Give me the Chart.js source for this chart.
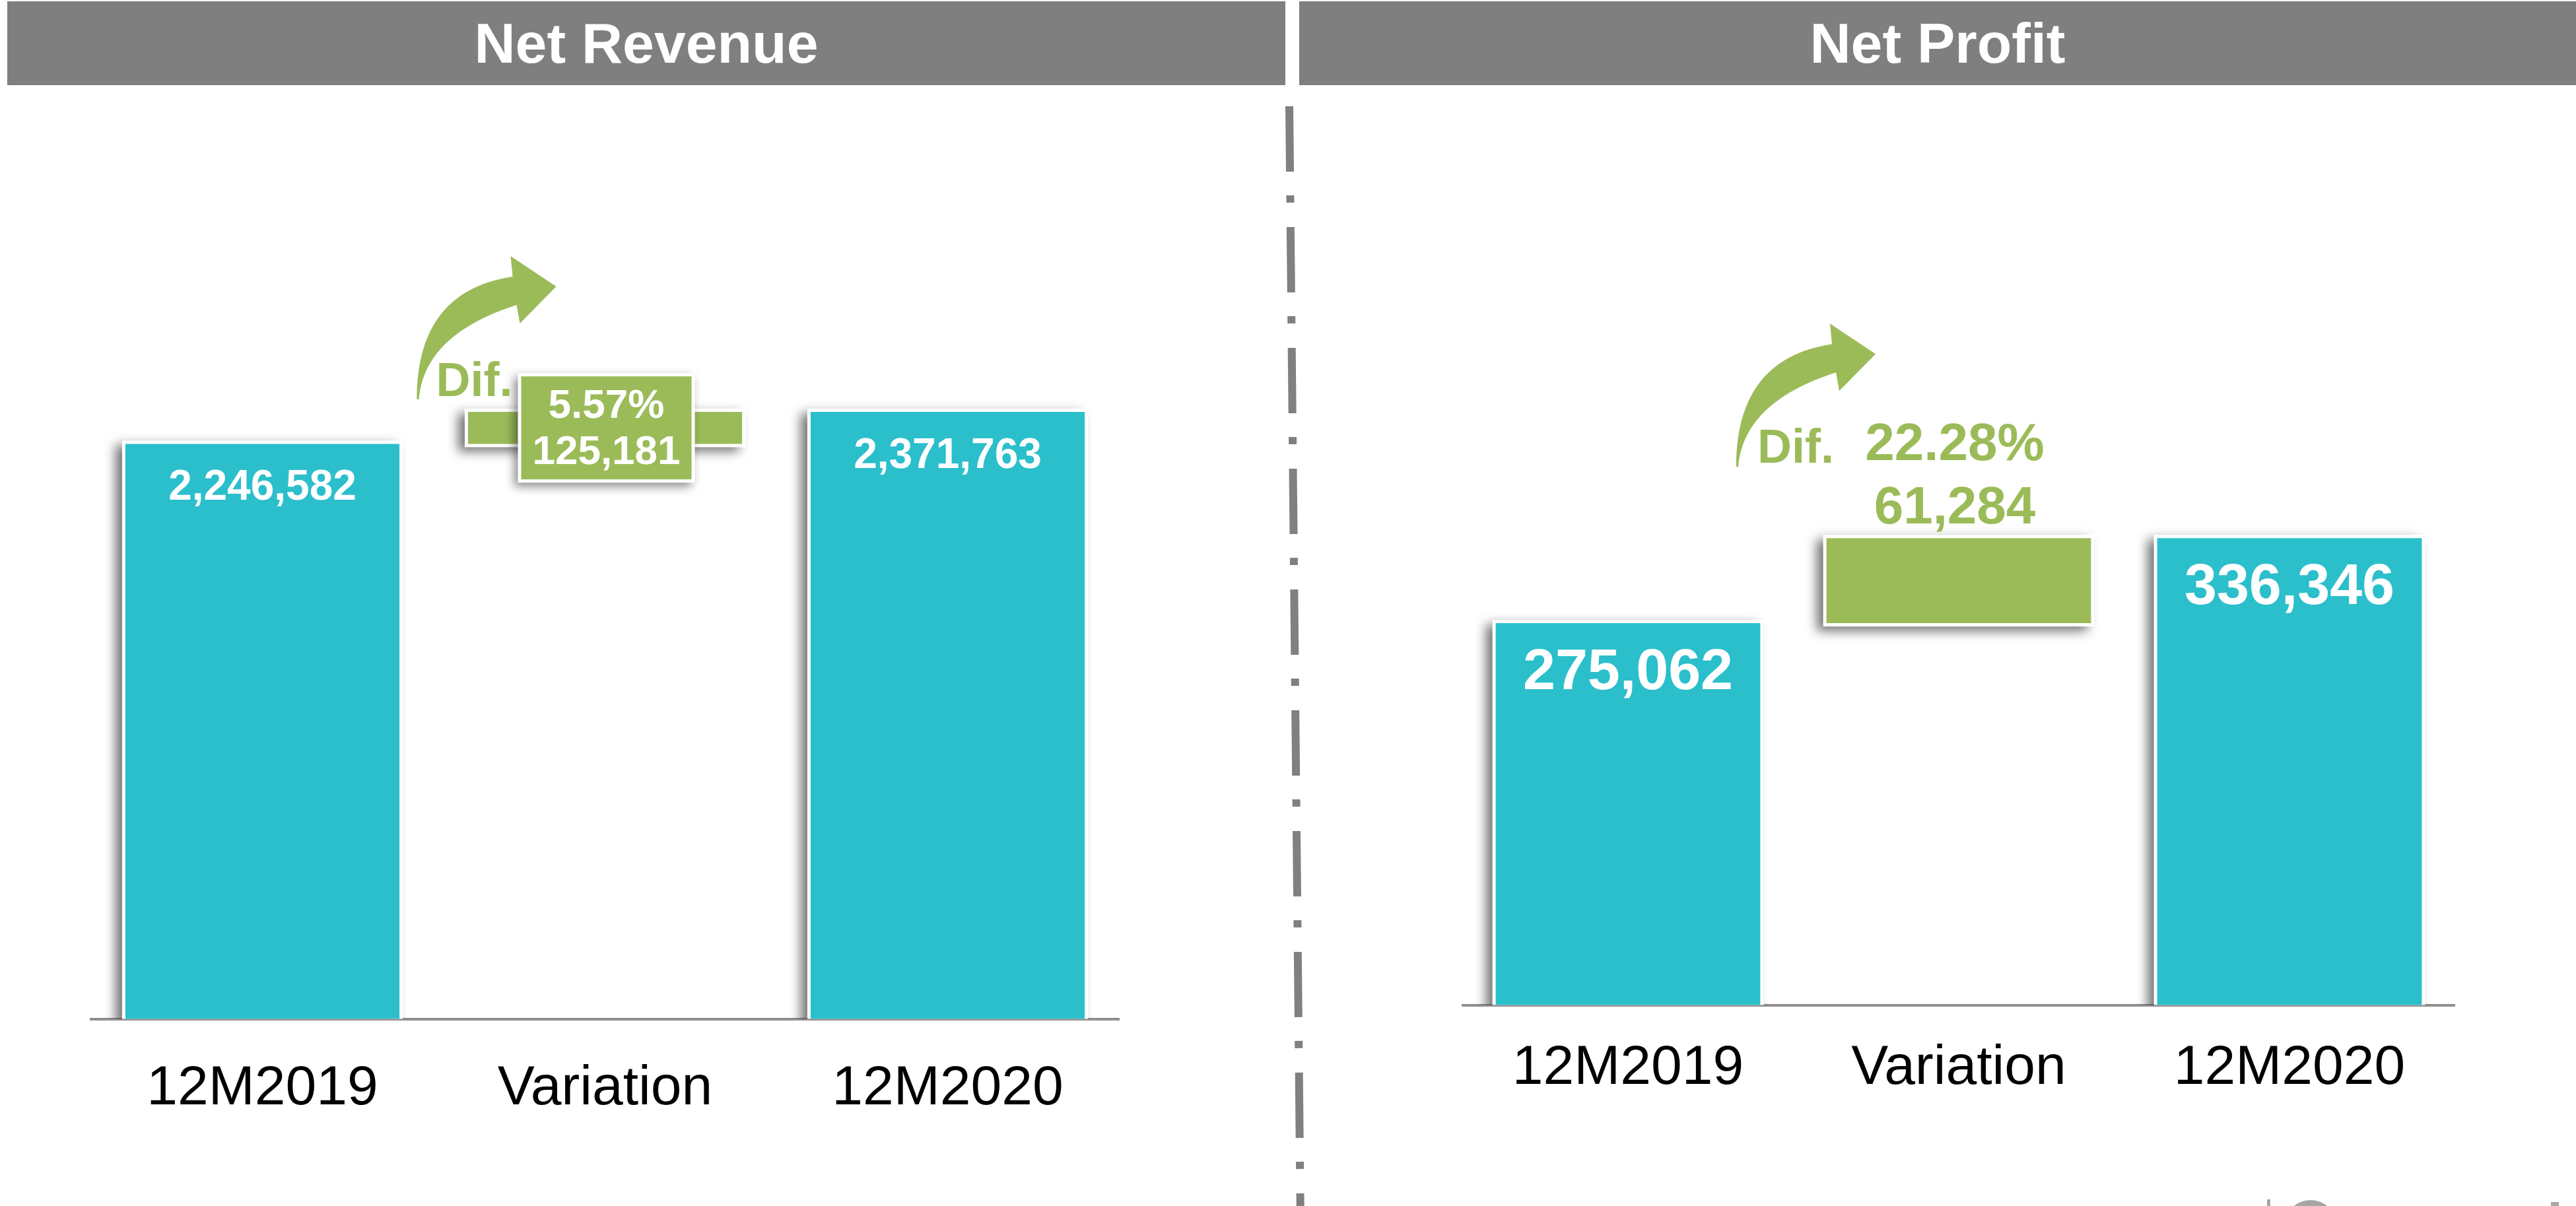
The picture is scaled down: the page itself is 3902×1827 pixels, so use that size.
<!DOCTYPE html>
<html>
<head>
<meta charset="utf-8">
<script src="https://cdn.jsdelivr.net/npm/chart.js@4.4.1/dist/chart.umd.min.js"></script>
<style>
  html, body { margin: 0; padding: 0; background: #fff; }
  body { width: 3902px; height: 1827px; position: relative; overflow: hidden; font-family: "Liberation Sans", Arial, sans-serif; }
  .header { position: absolute; top: 2px; height: 127px; line-height: 127px; background: #7f7f7f; color: #fff; font-weight: bold; font-size: 86px; text-align: center; }
  canvas { position: absolute; top: 0; }
  .logo { position: absolute; background: #a6a6a6; }
</style>
</head>
<body>
<div class="header" style="left:11px;width:1936px;">Net Revenue</div>
<div class="header" style="left:1968px;width:1934px;">Net Profit</div>

<svg style="position:absolute;left:0;top:0" width="3902" height="1827">
  <line x1="1953" y1="161" x2="1970" y2="1860" stroke="#808080" stroke-width="12" stroke-dasharray="99 36 11 37"/>
</svg>

<div class="logo" style="left:3434px;top:1817px;width:5px;height:10px;"></div>
<div class="logo" style="left:3460px;top:1818px;width:80px;height:80px;border-radius:50%;"></div>
<div class="logo" style="left:3864px;top:1821px;width:12px;height:6px;"></div>

<canvas id="revenueChart" width="1950" height="1827" style="left:0"></canvas>
<canvas id="profitChart" width="1942" height="1827" style="left:1960px"></canvas>

<script>
const categories = ['12M2019', 'Variation', '12M2020'];
const revenueValues = [2246582, 2371763];   // 12M2019, 12M2020
const profitValues = [275062, 336346];

const teal = '#2bbfcc';
const green = '#9bbb59';
const fontFamily = '"Liberation Sans", Arial, sans-serif';

const fmt = n => n.toLocaleString('en-US');

// start, variation step, end
function waterfall(v) {
    return [[0, v[0]], [v[0], v[1]], [0, v[1]]];
}

function barBox(bar) {
    const p = bar.getProps(['x', 'y', 'base', 'width'], true);
    return {
        x: p.x,
        w: p.width,
        top: Math.min(p.y, p.base),
        bottom: Math.max(p.y, p.base)
    };
}

// white frame + soft drop shadow behind every bar
const shadowPlugin = {
    id: 'barShadow',
    beforeDatasetsDraw(chart) {
        const ctx = chart.ctx;
        const area = chart.chartArea;
        ctx.save();
        ctx.beginPath();
        ctx.rect(0, 0, chart.width, area.bottom);
        ctx.clip();
        chart.getDatasetMeta(0).data.forEach(bar => {
            const b = barBox(bar);
            ctx.shadowColor = 'rgba(0,0,0,0.55)';
            ctx.shadowBlur = 16;
            ctx.shadowOffsetX = -10;
            ctx.shadowOffsetY = 7;
            ctx.fillStyle = '#fff';
            ctx.fillRect(b.x - b.w / 2 - 5, b.top - 5, b.w + 10, b.bottom - b.top + 10);
        });
        ctx.restore();
    }
};

function drawArrow(ctx, x, y) {
    ctx.beginPath();
    ctx.moveTo(x, y);
    ctx.bezierCurveTo(x, y - 100, x + 40, y - 170, x + 145, y - 186);
    ctx.lineTo(x + 142, y - 217);
    ctx.lineTo(x + 211, y - 171);
    ctx.lineTo(x + 156, y - 115);
    ctx.lineTo(x + 151, y - 143);
    ctx.bezierCurveTo(x + 80, y - 120, x + 10, y - 80, x + 3, y);
    ctx.closePath();
    ctx.fill();
}

const annotatePlugin = {
    id: 'annotate',
    afterDatasetsDraw(chart, args, o) {
        const ctx = chart.ctx;
        const data = chart.data.datasets[0].data;
        const startVal = data[0][1];
        const endVal = data[2][1];
        const diff = endVal - startVal;
        const pct = (diff / startVal * 100).toFixed(2) + '%';
        const bars = chart.getDatasetMeta(0).data;

        ctx.save();
        ctx.textAlign = 'center';
        ctx.textBaseline = 'alphabetic';

        // values inside the teal bars
        ctx.fillStyle = '#fff';
        ctx.font = `bold ${o.valueFont}px ${fontFamily}`;
        [0, 2].forEach(i => {
            const b = barBox(bars[i]);
            ctx.fillText(fmt(data[i][1]), b.x, b.top + o.valueOffset);
        });

        const v = barBox(bars[1]);
        if (o.boxed) {
            const cx = v.x + o.boxDx;
            const cy = (v.top + v.bottom) / 2;
            ctx.save();
            ctx.shadowColor = 'rgba(0,0,0,0.45)';
            ctx.shadowBlur = 14;
            ctx.shadowOffsetX = -6;
            ctx.shadowOffsetY = 6;
            ctx.fillStyle = '#fff';
            ctx.fillRect(cx - o.boxW / 2 - 5, cy - o.boxH / 2 - 5, o.boxW + 10, o.boxH + 10);
            ctx.restore();
            ctx.fillStyle = green;
            ctx.fillRect(cx - o.boxW / 2, cy - o.boxH / 2, o.boxW, o.boxH);
            ctx.fillStyle = '#fff';
            ctx.font = `bold ${o.diffFont}px ${fontFamily}`;
            ctx.fillText(pct, cx, cy + o.line1);
            ctx.fillText(fmt(diff), cx, cy + o.line2);
        } else {
            ctx.fillStyle = green;
            ctx.font = `bold ${o.diffFont}px ${fontFamily}`;
            ctx.fillText(pct, v.x + o.textDx, v.top + o.line1);
            ctx.fillText(fmt(diff), v.x + o.textDx, v.top + o.line2);
        }

        ctx.fillStyle = green;
        ctx.textAlign = 'right';
        ctx.font = `bold ${o.difFont}px ${fontFamily}`;
        ctx.fillText('Dif.', v.x + o.difDx, v.top + o.difDy);

        drawArrow(ctx, v.x + o.arrowDx, v.top + o.arrowDy);
        ctx.restore();
    }
};

function makeChart(id, values, cfg) {
    return new Chart(document.getElementById(id), {
        type: 'bar',
        data: {
            labels: categories,
            datasets: [{
                data: waterfall(values),
                backgroundColor: [teal, green, teal],
                borderWidth: 0,
                categoryPercentage: 1,
                barPercentage: 0.8
            }]
        },
        options: {
            responsive: false,
            animation: false,
            devicePixelRatio: 1,
            layout: { padding: cfg.padding },
            plugins: {
                legend: { display: false },
                tooltip: { enabled: false },
                annotate: cfg.annotate
            },
            scales: {
                x: {
                    grid: { display: false, drawTicks: false },
                    border: { display: true, color: '#8f8f8f', width: 4 },
                    ticks: {
                        color: '#000',
                        padding: cfg.tickPadding,
                        font: { family: fontFamily, size: 84, lineHeight: 1.2 }
                    }
                },
                y: {
                    display: false,
                    min: 0,
                    max: cfg.max
                }
            }
        },
        plugins: [shadowPlugin, annotatePlugin]
    });
}

makeChart('revenueChart', revenueValues, {
    max: 3500000,
    padding: { left: 138, right: 255, top: 186.5, bottom: 70.7 },
    tickPadding: 56,
    annotate: {
        valueFont: 64, valueOffset: 85,
        boxed: true, boxDx: 2, boxW: 258, boxH: 156,
        diffFont: 62, line1: -15, line2: 55,
        difFont: 72, difDx: -140, difDy: -24,
        arrowDx: -285, arrowDy: -19
    }
});

makeChart('profitChart', profitValues, {
    max: 600000,
    padding: { left: 255.5, right: 183.5, top: 260.8, bottom: 111.7 },
    tickPadding: 46,
    annotate: {
        valueFont: 88, valueOffset: 100,
        boxed: false, textDx: -6,
        diffFont: 80, line1: -118, line2: -22,
        difFont: 72, difDx: -189, difDy: -114,
        arrowDx: -337, arrowDy: -108
    }
});
</script>
</body>
</html>
